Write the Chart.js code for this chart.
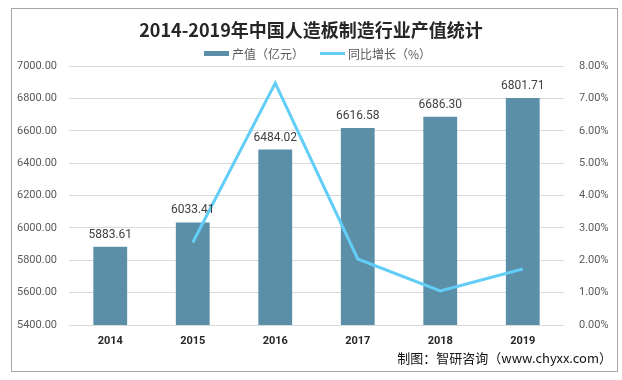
<!DOCTYPE html>
<html><head><meta charset="utf-8">
<script src="https://cdn.jsdelivr.net/npm/chart.js@4/dist/chart.umd.min.js"></script>
<style>html,body{margin:0;padding:0;background:#fff;}#wrap{width:622px;height:380px;position:relative;}</style>
</head><body><div id="wrap"><canvas id="c" width="622" height="380"></canvas></div>
<script>
const years = ['2014','2015','2016','2017','2018','2019'];
const outputValues = [5883.61, 6033.41, 6484.02, 6616.58, 6686.30, 6801.71];
const growthRates = [null, 2.55, 7.47, 2.04, 1.05, 1.73];
const titleText = '2014-2019年中国人造板制造行业产值统计';
const barLabel = '产值（亿元）';
const lineLabel = '同比增长（%）';
const sourceText = '制图：智研咨询（www.chyxx.com）';

const CJK = '"Noto Sans CJK SC","Microsoft YaHei",sans-serif';
const LAT = 'Roboto,"Liberation Sans","Noto Sans CJK SC",sans-serif';

const deco = {
  id: 'deco',
  afterDraw(chart) {
    const ctx = chart.ctx;
    ctx.save();
    ctx.strokeStyle = '#a6a6a6'; ctx.lineWidth = 1;
    ctx.strokeRect(11.5, 8.5, 606, 363);
    ctx.fillStyle = '#262626';
    ctx.font = 'bold 18px ' + CJK;
    ctx.textAlign = 'center'; ctx.textBaseline = 'middle';
    ctx.fillText(titleText, 311, 30);
    ctx.font = '12px ' + CJK;
    ctx.textAlign = 'left';
    ctx.fillStyle = '#5b8fa8';
    ctx.fillRect(204, 51, 25, 5);
    ctx.fillStyle = '#595959';
    ctx.fillText(barLabel, 232, 54);
    ctx.strokeStyle = '#62cdf7'; ctx.lineWidth = 3;
    ctx.beginPath(); ctx.moveTo(320, 53.5); ctx.lineTo(345, 53.5); ctx.stroke();
    ctx.fillText(lineLabel, 348, 54);
    const idx = chart.data.datasets.findIndex(d => d.type === 'bar');
    const meta = chart.getDatasetMeta(idx);
    ctx.font = '12px ' + LAT;
    ctx.fillStyle = '#404040';
    ctx.textAlign = 'center'; ctx.textBaseline = 'bottom';
    meta.data.forEach((bar, i) => {
      ctx.fillText(outputValues[i].toFixed(2), bar.x, bar.y - 6);
    });
    ctx.font = '13px ' + CJK;
    ctx.fillStyle = '#111';
    ctx.textAlign = 'right'; ctx.textBaseline = 'middle';
    ctx.fillText(sourceText, 612, 358);
    ctx.restore();
  }
};

new Chart(document.getElementById('c'), {
  data: {
    labels: years,
    datasets: [
      { type: 'line', label: lineLabel, data: growthRates, yAxisID: 'y1',
        borderColor: '#62cdf7', borderWidth: 3, pointRadius: 0, tension: 0, order: 0 },
      { type: 'bar', label: barLabel, data: outputValues, yAxisID: 'y',
        backgroundColor: '#5b8fa8', categoryPercentage: 1, barPercentage: 0.41, order: 1 }
    ]
  },
  options: {
    responsive: false, animation: false,
    layout: { padding: { top: 66, left: 0, right: 0, bottom: 0 } },
    plugins: { legend: { display: false }, tooltip: { enabled: false }, title: { display: false } },
    scales: {
      x: {
        grid: { display: false, drawTicks: false }, border: { display: false },
        ticks: { color: '#262626', font: { family: LAT, size: 11, weight: 'bold' }, padding: 10 },
        afterFit(s) { s.height = 55; }
      },
      y: {
        position: 'left', min: 5400, max: 7000,
        ticks: { stepSize: 200, color: '#595959', font: { family: LAT, size: 11 }, padding: 12,
                 callback: v => v.toFixed(2) },
        grid: { color: '#d9d9d9', drawTicks: false, lineWidth: 1 }, border: { display: false },
        afterFit(s) { s.width = 69; }
      },
      y1: {
        position: 'right', min: 0, max: 8,
        ticks: { stepSize: 1, color: '#595959', font: { family: LAT, size: 11 }, padding: 15,
                 callback: v => v.toFixed(2) + '%' },
        grid: { display: false, drawTicks: false }, border: { display: false },
        afterFit(s) { s.width = 58; }
      }
    }
  },
  plugins: [deco]
});
</script></body></html>
